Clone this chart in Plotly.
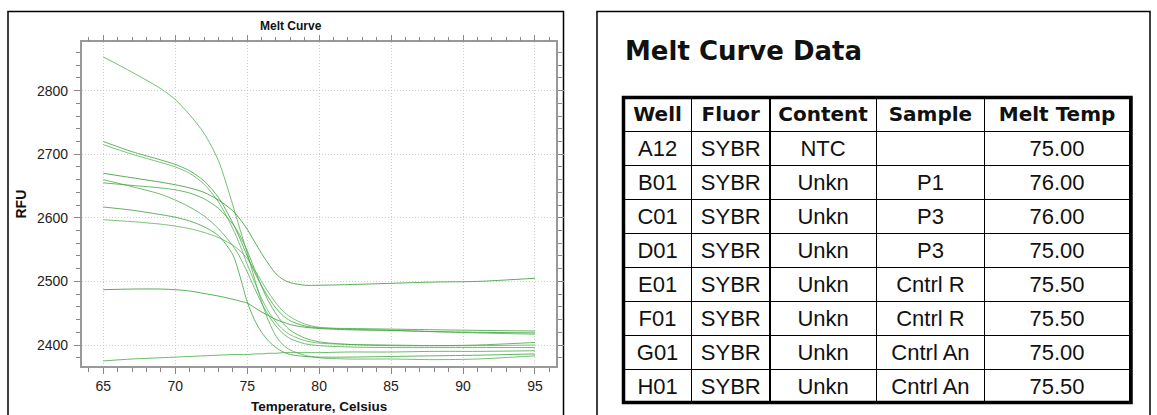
import plotly.graph_objects as go

W, H = 1157, 415

# ---------------- data ----------------
temps = [65, 67, 69, 70, 71, 72, 73, 74, 74.5, 75, 75.5, 76, 76.5, 77, 77.5, 78, 79, 80, 82, 85, 88, 91, 95]

curve_a = [2853, 2829, 2803, 2786, 2762, 2733, 2690, 2620, 2582, 2545, 2505, 2468, 2437, 2414, 2400, 2392, 2384, 2380, 2378, 2378, 2377, 2378, 2383]
curve_b1 = [2720, 2704, 2691, 2684, 2674, 2658, 2632, 2592, 2567, 2540, 2515, 2493, 2474, 2458, 2446, 2438, 2430, 2427, 2426, 2425, 2424, 2423, 2422]
curve_b2 = [2715, 2700, 2687, 2680, 2670, 2653, 2625, 2583, 2557, 2527, 2500, 2473, 2452, 2436, 2424, 2416, 2407, 2403, 2401, 2400, 2399, 2399, 2400]
curve_c = [2670, 2663, 2656, 2652, 2647, 2640, 2628, 2611, 2598, 2582, 2563, 2544, 2527, 2512, 2503, 2498, 2494, 2494, 2495, 2497, 2499, 2500, 2505]
curve_d = [2660, 2649, 2637, 2628, 2617, 2603, 2583, 2556, 2538, 2515, 2490, 2466, 2446, 2430, 2418, 2410, 2402, 2399, 2397, 2396, 2396, 2396, 2396]
curve_e = [2655, 2651, 2647, 2644, 2639, 2630, 2615, 2590, 2572, 2548, 2520, 2492, 2468, 2449, 2434, 2423, 2411, 2405, 2401, 2399, 2399, 2400, 2404]
curve_f = [2617, 2612, 2605, 2601, 2595, 2586, 2572, 2542, 2508, 2468, 2440, 2420, 2406, 2396, 2389, 2385, 2382, 2381, 2381, 2382, 2383, 2384, 2386]
curve_g = [2597, 2594, 2590, 2587, 2583, 2577, 2569, 2557, 2548, 2536, 2519, 2500, 2482, 2466, 2453, 2444, 2433, 2428, 2425, 2423, 2421, 2419, 2417]
curve_h = [2487, 2488, 2488, 2487, 2485, 2481, 2477, 2472, 2469, 2466, 2459, 2452, 2446, 2440, 2436, 2432, 2428, 2426, 2424, 2423, 2421, 2420, 2419]
curve_n = [2375, 2378, 2380, 2381, 2382, 2383, 2384, 2385, 2385, 2385, 2386, 2386, 2387, 2387, 2388, 2388, 2388, 2388, 2389, 2389, 2390, 2390, 2391]

curves = [curve_a, curve_b1, curve_b2, curve_c, curve_d, curve_e, curve_f, curve_g, curve_h, curve_n]
line_colors = ["rgba(80,175,80,0.8)", "rgba(60,160,60,0.8)", "rgba(90,180,90,0.8)",
               "rgba(60,160,60,0.85)", "rgba(80,170,80,0.8)", "rgba(70,165,70,0.8)",
               "rgba(60,160,60,0.8)", "rgba(90,180,90,0.8)", "rgba(60,160,60,0.85)",
               "rgba(80,175,80,0.85)"]

x_ticks = [65, 70, 75, 80, 85, 90, 95]
y_ticks = [2400, 2500, 2600, 2700, 2800]

table_header = ["Well", "Fluor", "Content", "Sample", "Melt Temp"]
wells = ["A12", "B01", "C01", "D01", "E01", "F01", "G01", "H01"]
fluors = ["SYBR", "SYBR", "SYBR", "SYBR", "SYBR", "SYBR", "SYBR", "SYBR"]
contents = ["NTC", "Unkn", "Unkn", "Unkn", "Unkn", "Unkn", "Unkn", "Unkn"]
samples = ["", "P1", "P3", "P3", "Cntrl R", "Cntrl R", "Cntrl An", "Cntrl An"]
melt_temps = ["75.00", "76.00", "76.00", "75.00", "75.50", "75.50", "75.00", "75.50"]


def px(x):
    return x / W


def py(y):
    return 1 - y / H


fig = go.Figure()

for vals, col in zip(curves, line_colors):
    fig.add_trace(go.Scatter(x=temps, y=vals, mode="lines",
                             line=dict(color=col, width=1, shape="spline", smoothing=0.8),
                             showlegend=False, hoverinfo="skip"))

# table
fig.add_trace(go.Table(
    domain=dict(x=[px(623.5), px(1130)], y=[py(404), py(97.5)]),
    columnwidth=[68.2, 78.3, 106.5, 108.5, 145],
    header=dict(values=table_header, height=34, align="center",
                line=dict(color="black", width=1.5), fill=dict(color="white"),
                font=dict(family="DejaVu Sans", size=20, color="#111", weight="bold")),
    cells=dict(values=[wells, fluors, contents, samples, melt_temps], height=34, align="center",
               line=dict(color="black", width=1.5), fill=dict(color="white"),
               font=dict(family="Liberation Sans", size=22, color="#111")),
))

axis_font = dict(family="Liberation Sans", size=14, color="#222")

fig.update_layout(
    width=W, height=H,
    margin=dict(l=0, r=0, t=0, b=0),
    paper_bgcolor="white", plot_bgcolor="white",
    showlegend=False,
    xaxis=dict(domain=[px(81.7), px(556)], range=[63.5, 96.46],
               tickmode="array", tickvals=x_ticks, ticktext=[str(v) for v in x_ticks],
               ticks="outside", ticklen=6, tickcolor="#888", tickwidth=1,
               showline=True, linecolor="#999", linewidth=1.5, mirror="ticks",
               showgrid=True, gridcolor="#cfcfcf", griddash="1px,2px", gridwidth=1,
               minor=dict(tick0=65, dtick=1, ticks="outside", ticklen=4, tickcolor="#888", showgrid=False),
               tickfont=axis_font, zeroline=False, ticklabelstandoff=0),
    yaxis=dict(domain=[py(366), py(42.3)], range=[2367, 2876],
               tickmode="array", tickvals=y_ticks, ticktext=[str(v) for v in y_ticks],
               ticks="outside", ticklen=6, tickcolor="#888", tickwidth=1,
               showline=True, linecolor="#999", linewidth=1.5, mirror="ticks",
               showgrid=True, gridcolor="#cfcfcf", griddash="1px,2px", gridwidth=1,
               minor=dict(tick0=2400, dtick=20, ticks="outside", ticklen=4, tickcolor="#888", showgrid=False),
               tickfont=axis_font, zeroline=False, ticklabelstandoff=3),
)

# panel frames
fig.add_shape(type="rect", xref="paper", yref="paper", x0=px(8), x1=px(563.5), y0=py(430), y1=py(11.5),
              line=dict(color="black", width=1.5), fillcolor="rgba(0,0,0,0)", layer="below")
fig.add_shape(type="rect", xref="paper", yref="paper", x0=px(597), x1=px(1150), y0=py(430), y1=py(11.5),
              line=dict(color="black", width=1.5), fillcolor="rgba(0,0,0,0)", layer="below")
# thick table border
fig.add_shape(type="rect", xref="paper", yref="paper", x0=px(623.5), x1=px(1131), y0=py(402.5), y1=py(97.5),
              line=dict(color="black", width=3.5), fillcolor="rgba(0,0,0,0)")

# titles
fig.add_annotation(text="<b>Melt Curve</b>", xref="paper", yref="paper", x=px(290.5), y=py(26),
                   showarrow=False, xanchor="center", yanchor="middle",
                   font=dict(family="Liberation Sans", size=12, color="#111"))
fig.add_annotation(text="<b>RFU</b>", xref="paper", yref="paper", x=px(20.5), y=py(204),
                   showarrow=False, xanchor="center", yanchor="middle", textangle=-90,
                   font=dict(family="Liberation Sans", size=14, color="#111"))
fig.add_annotation(text="<b>Temperature, Celsius</b>", xref="paper", yref="paper", x=px(319), y=py(397),
                   showarrow=False, xanchor="center", yanchor="top",
                   font=dict(family="Liberation Sans", size=13.5, color="#111"))
fig.add_annotation(text="<b>Melt Curve Data</b>", xref="paper", yref="paper", x=px(623), y=py(51.5),
                   showarrow=False, xanchor="left", yanchor="middle",
                   font=dict(family="DejaVu Sans", size=26, color="#111"))

fig.write_html("out.html")
